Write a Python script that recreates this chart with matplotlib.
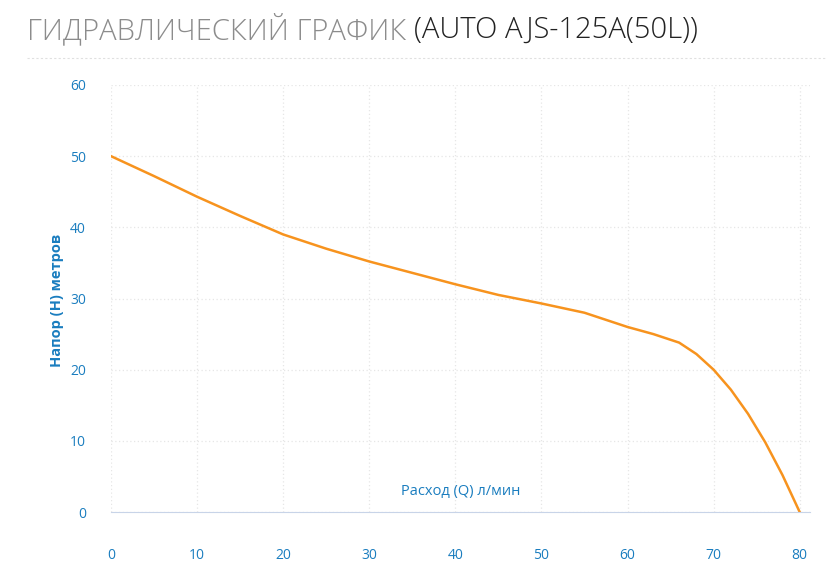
import matplotlib
matplotlib.use("Agg")
import matplotlib.pyplot as plt
import numpy as np

flow = [0, 5, 10, 15, 20, 25, 30, 35, 40, 45, 50, 55, 60, 63, 66, 68, 70, 72, 74, 76, 78, 80]
head = [50, 47.2, 44.3, 41.6, 39, 37, 35.2, 33.6, 32, 30.5, 29.3, 28, 26, 25, 23.8, 22.2, 20, 17.2, 13.8, 9.8, 5.2, 0]
xticks = [0, 10, 20, 30, 40, 50, 60, 70, 80]
yticks = [0, 10, 20, 30, 40, 50, 60]

plt.rcParams['font.family'] = ['Open Sans', 'DejaVu Sans']
fig = plt.figure(figsize=(8.27, 5.82), dpi=100)
ax = fig.add_axes([111/827, 1-512/582, 699/827, 427/582])

ax.plot(flow, head, color='#f7931e', lw=1.8)
ax.set_xlim(0, 81.2)
ax.set_ylim(0, 60)
ax.set_xticks(xticks)
ax.set_yticks(yticks)
ax.grid(True, color='#e6e6e6', linestyle=(0, (1, 2)), lw=0.9)
for s in ['top', 'right', 'left']:
    ax.spines[s].set_visible(False)
ax.spines['bottom'].set_color('#c8d4e8')
ax.tick_params(axis='x', length=0, pad=26, labelcolor='#1a7dbf', labelsize=10)
ax.tick_params(axis='y', length=0, pad=18, labelcolor='#1a7dbf', labelsize=10)
ax.text(0.5, 0.03, 'Расход (Q) л/мин', transform=ax.transAxes, ha='center', va='bottom',
        color='#1a7dbf', fontsize=10.5)
fig.text(57/827, 1-300/582, 'Напор (H) метров', rotation=90, ha='center', va='center',
         color='#1a7dbf', fontsize=10.5, fontweight='bold')

fs = 21
fig.text(27/827, 1-30/582, 'ГИДРАВЛИЧЕСКИЙ ГРАФИК ', color='#8c8c8c', fontsize=fs,
         fontweight='light', va='center', ha='left')
t = fig.text(27/827, 1-30/582, 'ГИДРАВЛИЧЕСКИЙ ГРАФИК ', color='none', fontsize=fs,
             fontweight='light', va='center', ha='left')
fig.canvas.draw()
bb = t.get_window_extent()
fig.text(bb.x1/827, 1-30/582, '(AUTO AJS-125A(50L))', color='#222222', fontsize=fs,
         fontweight='light', va='center', ha='left')
fig.add_artist(plt.Line2D([27/827, 1], [1-58/582, 1-58/582], color='#e0e0e0',
                          linestyle=(0, (2, 2)), lw=0.8, transform=fig.transFigure))
fig.savefig('out.png', dpi=100)
